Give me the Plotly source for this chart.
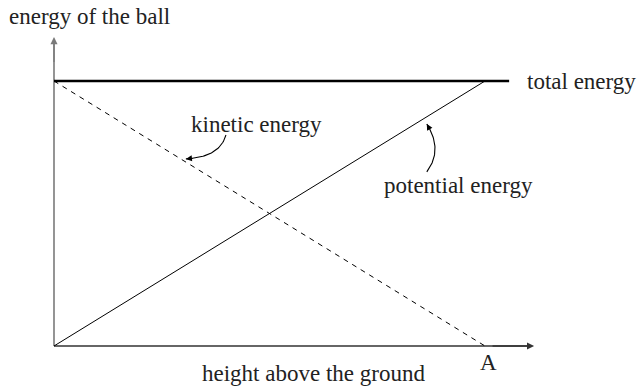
import numpy as np
import plotly.graph_objects as go

# data (normalised: height A = 1, total energy = 1)
height = [0.0, 1.0]
kinetic = [1.0, 0.0]
potential = [0.0, 1.0]
total_x = [0.0, 1.056]
total = [1.0, 1.0]

x_axis_end = 1.114
y_axis_end = 1.166

labels = {
    "y_title": "energy of the ball",
    "x_title": "height above the ground",
    "total": "total energy",
    "kinetic": "kinetic energy",
    "potential": "potential energy",
    "A": "A",
}

FONT = "Liberation Serif"
FS = 23
TXT = "#222222"

fig = go.Figure()

# axes
fig.add_trace(go.Scatter(x=[0, 0], y=[0, y_axis_end - 0.01], mode="lines",
                         line=dict(color="#7a7a7a", width=1.6), hoverinfo="skip"))
fig.add_trace(go.Scatter(x=[0, x_axis_end - 0.01], y=[0, 0], mode="lines",
                         line=dict(color="#333333", width=1.3), hoverinfo="skip"))

# energy lines
fig.add_trace(go.Scatter(x=total_x, y=total, mode="lines",
                         line=dict(color="black", width=2.6), hoverinfo="skip"))
fig.add_trace(go.Scatter(x=height, y=kinetic, mode="lines",
                         line=dict(color="black", width=1, dash="5px,5px"), hoverinfo="skip"))
fig.add_trace(go.Scatter(x=height, y=potential, mode="lines",
                         line=dict(color="black", width=1), hoverinfo="skip"))


def bezier(p0, p1, p2, n=40):
    t = np.linspace(0, 1, n)[:, None]
    p0, p1, p2 = map(np.array, (p0, p1, p2))
    pts = (1 - t) ** 2 * p0 + 2 * (1 - t) * t * p1 + t ** 2 * p2
    return pts[:, 0], pts[:, 1]


# curved pointer arrows (start, control, end)
pointers = [
    ((0.399, 0.796), (0.385, 0.713), (0.306, 0.706)),  # kinetic
    ((0.865, 0.657), (0.903, 0.740), (0.865, 0.838)),  # potential
]
for p0, p1, p2 in pointers:
    bx, by = bezier(p0, p1, p2)
    fig.add_trace(go.Scatter(x=bx, y=by, mode="lines",
                             line=dict(color="black", width=1.1), hoverinfo="skip"))
    fig.add_annotation(x=bx[-1], y=by[-1], ax=bx[-6], ay=by[-6],
                       xref="x", yref="y", axref="x", ayref="y", text="",
                       showarrow=True, arrowhead=2, arrowsize=1.1, arrowwidth=1.1,
                       arrowcolor="black")

# axis arrowheads
fig.add_annotation(x=0, y=y_axis_end, ax=0, ay=y_axis_end - 0.1,
                   xref="x", yref="y", axref="x", ayref="y", text="",
                   showarrow=True, arrowhead=2, arrowsize=1.1, arrowwidth=1.3,
                   arrowcolor="#7a7a7a")
fig.add_annotation(x=x_axis_end, y=0, ax=x_axis_end - 0.1, ay=0,
                   xref="x", yref="y", axref="x", ayref="y", text="",
                   showarrow=True, arrowhead=2, arrowsize=1.1, arrowwidth=1.3,
                   arrowcolor="#333333")

# texts (x, y in data coords)
texts = [
    (labels["y_title"], -0.110, 1.245, "left"),
    (labels["x_title"], 0.603, -0.102, "center"),
    (labels["kinetic"], 0.469, 0.834, "center"),
    (labels["potential"], 0.939, 0.607, "center"),
    (labels["A"], 1.007, -0.064, "center"),
]
for t, x, y, anch in texts:
    fig.add_annotation(x=x, y=y, xref="x", yref="y", text=t, showarrow=False,
                       xanchor=anch, yanchor="middle",
                       font=dict(family=FONT, size=FS, color=TXT))
# right-hand label, aligned to the right edge
fig.add_annotation(x=1.0, y=1.0, xref="paper", yref="y", text=labels["total"],
                   showarrow=False, xanchor="right", yanchor="middle",
                   font=dict(family=FONT, size=FS, color=TXT))

# scale: x=0 -> px 54, x=1 -> px 485 ; y=0 -> px 346, y=1 -> px 81
W, H = 638, 390
sx = 431.0
sy = 265.0
x0 = -54 / sx
x1 = x0 + W / sx
y1 = 1 + 81 / sy
y0 = y1 - H / sy

fig.update_layout(
    width=W, height=H,
    margin=dict(l=0, r=0, t=0, b=0),
    showlegend=False,
    plot_bgcolor="white", paper_bgcolor="white",
    xaxis=dict(range=[x0, x1], visible=False, fixedrange=True),
    yaxis=dict(range=[y0, y1], visible=False, fixedrange=True),
)

fig.write_html(
    "out.html",
    config={"displayModeBar": False, "staticPlot": True},
    post_script="document.body.style.margin='0px';document.body.style.overflow='hidden';",
)
